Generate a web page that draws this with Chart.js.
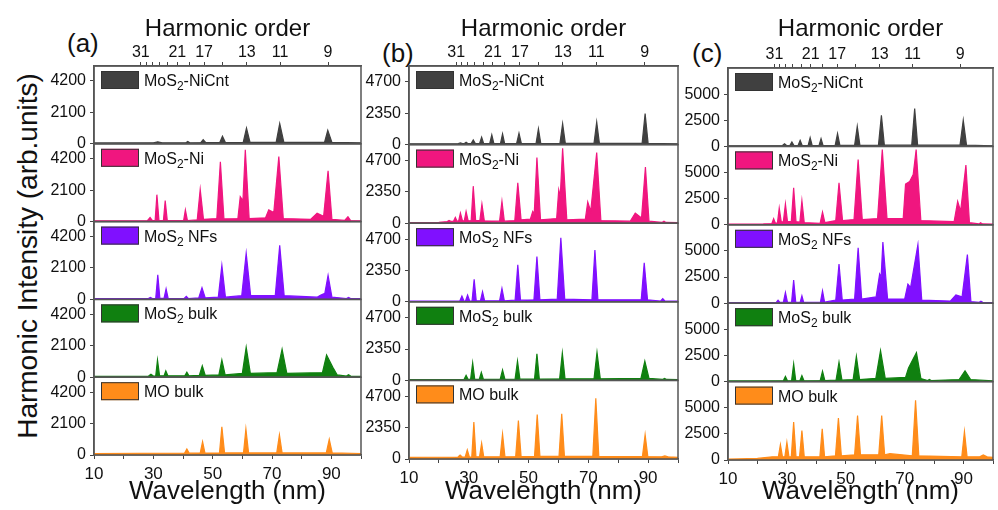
<!DOCTYPE html>
<html>
<head>
<meta charset="utf-8">
<script src="https://cdn.jsdelivr.net/npm/chart.js@4.4.1/dist/chart.umd.min.js"></script>
<style>
  body { margin: 0; background: #fff; width: 998px; height: 510px; overflow: hidden; position: relative;
         font-family: "Liberation Sans", Arial, sans-serif; color: #111; }
  canvas { position: absolute; top: 0; }
  .tag { position: absolute; font-size: 26px; line-height: 1; }
  #ytitle { position: absolute; left: 28px; top: 256px; white-space: nowrap; font-size: 28px;
            transform: translate(-50%, -50%) rotate(-90deg); }
</style>
</head>
<body>
<div class="tag" style="left:67px;top:30px">(a)</div>
<div class="tag" style="left:382px;top:40px">(b)</div>
<div class="tag" style="left:692px;top:40px">(c)</div>
<div id="ytitle">Harmonic Intensity (arb.units)</div>
<canvas id="chartA" width="322" height="510" style="left:44px"></canvas>
<canvas id="chartB" width="324" height="510" style="left:359px"></canvas>
<canvas id="chartC" width="320" height="510" style="left:678px"></canvas>
<script>
// samples, top row to bottom row
const sampleNames = ['MoS2-NiCnt', 'MoS2-Ni', 'MoS2 NFs', 'MoS2 bulk', 'MO bulk'];
const sampleColors = ['#404040', '#f0167f', '#8010ff', '#108010', '#ff8c1a'];

// bottom axis
const wavelengthTicks = [10, 20, 30, 40, 50, 60, 70, 80, 90, 100];
const wavelengthLabels = [10, 30, 50, 70, 90];

// top axis (harmonic order, 800 nm driver)
const harmonicWavelengths = [88.9, 72.7, 61.5, 53.3, 47.1, 42.1, 38.1, 34.8, 32.0, 29.6, 27.6, 25.8];
const harmonicLabels = ['9', '11', '13', '', '17', '', '21', '', '', '', '', '31'];

// y ticks per panel
const yTicksA = [0, 2100, 4200];
const yTicksB = [0, 2350, 4700];
const yTicksC = [0, 2500, 5000];

// spectra [wavelength nm, intensity] -- panel (a)
const aNiCnt = [[10,60],[30,70],[31.5,130],[33,70],[41,70],[41.6,160],[42.3,70],[46,80],[46.8,280],[47.7,80],[52.4,80],[53.3,500],[54.3,80],[60.3,90],[61.4,1050],[62.6,90],[71.4,90],[72.6,1350],[74,90],[87.7,90],[88.8,900],[90.2,90],[100,70]];
const aNi = [[10,50],[28,60],[28.9,270],[29.7,60],[30.6,60],[31.2,1800],[31.9,70],[33.4,70],[34.0,1400],[34.7,70],[40.2,60],[40.8,780],[41.5,60],[44.8,120],[45.8,2160],[46.9,150],[51.4,200],[52.6,4000],[53.8,180],[58.5,200],[59.3,1670],[60.2,1400],[61.0,4800],[62.3,200],[67.8,250],[68.9,780],[70.6,600],[72.3,4350],[73.8,200],[83,150],[85.2,560],[87.4,350],[88.9,3400],[90.2,150],[94.5,80],[95.6,330],[96.5,70],[100,50]];
const aNFs = [[10,50],[28.3,60],[29,130],[29.7,60],[30.8,60],[31.5,1650],[32.2,70],[33.6,70],[34.3,710],[35,70],[40.4,60],[41.1,200],[41.8,60],[45.3,100],[46.4,780],[47.5,100],[51.9,150],[53.1,2270],[54.3,150],[59.8,250],[61.3,3090],[62.8,250],[71.1,250],[72.6,3610],[74.1,250],[85.2,150],[86.3,270],[87.8,400],[88.9,1600],[90.2,150],[95.1,60],[95.8,130],[96.5,60],[100,50]];
const aBulk = [[10,60],[28.4,80],[29.2,200],[30,80],[30.8,80],[31.4,1150],[32.1,90],[33.6,90],[34.2,420],[34.9,90],[40.6,90],[41.3,330],[42,90],[45.5,120],[46.5,760],[47.5,120],[52.1,150],[53.1,1150],[54.2,150],[60,250],[61.3,2000],[62.7,250],[71.7,300],[73.4,1870],[75,250],[87,300],[88.4,1480],[90.5,670],[92,150],[95.1,80],[95.8,170],[96.5,80],[100,60]];
const aMO = [[10,100],[40.5,120],[41.3,400],[42.1,120],[45.8,130],[46.6,890],[47.4,130],[52.3,140],[53.1,1890],[54,140],[60.4,140],[61.2,1740],[62.1,140],[71.6,140],[72.5,1340],[73.4,140],[88.3,140],[89.3,1050],[90.3,140],[100,100]];

// panel (b)
const bNiCnt = [[10,60],[26.5,70],[27.2,120],[27.9,70],[28.4,70],[29.1,180],[29.8,70],[30.8,70],[31.5,350],[32.2,70],[33.6,70],[34.3,560],[35,70],[37,70],[37.7,730],[38.4,70],[40.6,70],[41.3,810],[42,70],[46,80],[46.8,860],[47.6,80],[52.5,80],[53.3,1190],[54.1,80],[60.5,90],[61.4,1570],[62.3,90],[71.9,90],[72.8,1690],[73.7,90],[88,90],[89,2330],[90,90],[100,60]];
const bNi = [[10,50],[20,60],[22.8,120],[23.4,200],[24.2,130],[24.9,150],[25.5,430],[26.1,150],[26.6,160],[27.2,760],[27.9,170],[28.5,180],[29.1,880],[29.8,180],[30.8,200],[31.5,2780],[32.3,200],[33.7,200],[34.4,1440],[35.2,180],[40.3,150],[41.1,1640],[41.9,150],[45.4,200],[46.4,3030],[47.5,250],[50.6,300],[51.4,880],[51.9,700],[52.8,4930],[54,250],[59.4,350],[60.1,2500],[60.6,2000],[61.4,5630],[62.8,250],[69,300],[69.8,1590],[70.8,900],[72.8,5300],[74.2,200],[84,150],[85.7,760],[87.8,400],[89.1,4220],[90.3,150],[94.6,60],[95.3,150],[96,60],[100,50]];
const bNFs = [[10,50],[27,60],[27.7,430],[28.4,60],[28.9,60],[29.6,500],[30.3,60],[31.1,70],[31.8,1690],[32.5,70],[33.9,70],[34.6,760],[35.3,70],[40.3,70],[41.1,1010],[41.9,70],[45.5,120],[46.4,2780],[47.3,120],[51.8,150],[52.8,3390],[53.8,150],[59.6,200],[60.8,4800],[62.1,200],[71.2,150],[72.2,3890],[73.2,150],[87.7,150],[88.7,2930],[89.8,150],[94.2,60],[94.9,230],[95.6,60],[100,50]];
const bBulk = [[10,60],[28.4,70],[29.1,380],[29.8,70],[30.6,70],[31.3,1320],[32,70],[33.5,70],[34.2,600],[34.9,70],[40.5,70],[41.3,780],[42.1,70],[45.5,90],[46.3,1450],[47.1,90],[52,100],[52.8,2000],[53.6,100],[60.4,120],[61.3,2060],[62.2,120],[71.9,120],[72.9,2100],[74,120],[87.6,150],[88.9,1450],[90.3,150],[94.8,70],[95.5,150],[96.2,70],[100,60]];
const bMO = [[10,120],[26.4,150],[27.1,300],[27.8,150],[28.8,150],[29.5,680],[30.2,150],[31,150],[31.7,2780],[32.4,160],[33.6,160],[34.3,1190],[35,160],[40.5,160],[41.3,1870],[42.1,160],[45.7,180],[46.6,2880],[47.5,180],[52,200],[52.9,3340],[53.8,200],[60.2,200],[61.1,3390],[62,200],[71.5,200],[72.5,4550],[73.5,200],[88.1,180],[89,1820],[89.9,180],[94.5,160],[95.6,230],[96.7,160],[100,120]];

// panel (c)
const cNiCnt = [[10,60],[28.5,80],[29.2,240],[29.9,80],[31,80],[31.7,420],[32.4,80],[33.8,80],[34.5,580],[35.2,80],[37.2,80],[37.9,830],[38.6,80],[40.9,80],[41.6,740],[42.3,80],[46.4,90],[47.2,1220],[48,90],[53,100],[53.9,1920],[54.8,100],[61.1,120],[62.1,2980],[63.1,120],[72.4,120],[73.4,3620],[74.4,120],[88.8,120],[89.9,2500],[91,120],[100,60]];
const cNi = [[10,60],[22,80],[24.9,120],[25.5,580],[26.1,150],[26.8,200],[27.4,1600],[28.1,250],[28.8,300],[29.5,1990],[30.2,300],[31.5,300],[32.3,3530],[33.1,300],[34.4,250],[35.1,2310],[35.9,200],[41.3,150],[42.1,1220],[42.9,200],[46.6,400],[47.7,4010],[48.9,400],[52.8,500],[54.2,6250],[55.6,500],[60.8,600],[62.4,7200],[64,600],[69.5,600],[70.3,3900],[71.7,4140],[72.9,4800],[73.9,7200],[75.5,400],[86.8,300],[88,2240],[89,1300],[90.8,5710],[92,200],[95.2,80],[95.8,190],[96.4,80],[100,60]];
const cNFs = [[10,60],[26.4,80],[27,290],[27.6,80],[28.8,80],[29.5,1030],[30.2,80],[31.6,100],[32.3,2210],[33,100],[34.5,80],[35.1,700],[35.7,80],[41.4,100],[42.1,1180],[42.8,100],[46.6,300],[47.7,3750],[48.8,300],[53,400],[54.2,5290],[55.4,400],[60.3,600],[61.5,2790],[62,2500],[62.6,5840],[64.2,400],[70,400],[71.1,1830],[72,1500],[74.5,5610],[75.8,300],[85.5,200],[87.4,800],[89.5,600],[91.3,4650],[92.5,150],[95.3,80],[95.9,190],[96.5,80],[100,60]];
const cBulk = [[10,60],[28.8,80],[29.5,500],[30.2,80],[31.6,100],[32.3,1700],[33,100],[34.4,80],[35.1,580],[35.8,80],[41.3,100],[42.1,1000],[42.9,100],[46.7,150],[47.7,1850],[48.7,150],[52.5,200],[53.6,2420],[54.7,200],[60.2,300],[61.8,2970],[63.4,300],[70.3,400],[71.3,1300],[74,2770],[75.5,300],[77.8,100],[78.4,200],[79,100],[88.5,200],[90.5,1040],[92.4,200],[100,60]];
const cMO = [[10,80],[20,150],[25,300],[27.1,300],[27.8,1470],[28.5,300],[29.3,300],[30,1700],[30.7,300],[31.5,300],[32.3,3620],[33.1,300],[34.3,300],[35.1,2820],[35.9,300],[41.2,300],[42,2980],[42.8,300],[46.5,400],[47.5,4010],[48.5,400],[53,500],[54,4260],[55,500],[61.2,500],[62.2,4260],[63.2,500],[65,600],[72.6,400],[73.7,5710],[74.8,400],[89.4,300],[90.3,2720],[91.2,300],[95.5,300],[96.7,480],[98,300],[100,250]];

const FONT = '"Liberation Sans", Arial, sans-serif';
Chart.defaults.font.family = FONT;
Chart.defaults.color = '#111';

// frame around every row + the little legend box in its corner
const rowFrames = {
  id: 'rowFrames',
  afterDraw(chart) {
    const { ctx, chartArea } = chart;
    ctx.save();
    sampleNames.forEach((name, r) => {
      const s = chart.scales['y' + r];
      ctx.strokeStyle = '#555';
      ctx.lineWidth = 1.5;
      ctx.strokeRect(chartArea.left, s.top, chartArea.right - chartArea.left, s.bottom - s.top);

      const bx = chartArea.left + 7, by = s.top + 5;
      ctx.fillStyle = sampleColors[r];
      ctx.fillRect(bx, by, 38, 18);
      ctx.strokeStyle = '#333';
      ctx.lineWidth = 1;
      ctx.strokeRect(bx + 0.5, by + 0.5, 37, 17);

      const m = name.match(/^(\D*)(\d?)(.*)$/);
      let tx = bx + 43;
      const ty = by + 15;
      ctx.fillStyle = '#111';
      ctx.textBaseline = 'alphabetic';
      ctx.font = '16px ' + FONT;
      ctx.fillText(m[1], tx, ty);
      tx += ctx.measureText(m[1]).width;
      if (m[2]) {
        ctx.font = '12px ' + FONT;
        ctx.fillText(m[2], tx, ty + 4);
        tx += ctx.measureText(m[2]).width;
      }
      ctx.font = '16px ' + FONT;
      ctx.fillText(m[3], tx, ty);
    });
    ctx.restore();
  }
};

function buildPanel(canvasId, rows, yMax, yTicks, padRight, topH, bottomH) {
  const scales = {
    x: {
      type: 'linear', position: 'bottom', min: 10, max: 100,
      afterBuildTicks: s => { s.ticks = wavelengthTicks.map(v => ({ value: v })); },
      afterFit: s => { s.height = bottomH; },
      ticks: {
        autoSkip: false, maxRotation: 0, padding: 5,
        font: { size: 17 }, color: '#111',
        callback: v => wavelengthLabels.includes(v) ? String(v) : ''
      },
      grid: { drawOnChartArea: false, tickLength: 4, color: '#444' },
      border: { color: '#555', width: 1.5 },
      title: { display: true, text: 'Wavelength (nm)', font: { size: 26 }, color: '#111', padding: { top: 0, bottom: 3 } }
    },
    xTop: {
      type: 'linear', position: 'top', min: 10, max: 100,
      afterBuildTicks: s => { s.ticks = harmonicWavelengths.map(v => ({ value: v })); },
      afterFit: s => { s.height = topH; },
      ticks: {
        autoSkip: false, maxRotation: 0, padding: 0,
        font: { size: 16 }, color: '#111',
        callback: (v, i) => harmonicLabels[i]
      },
      grid: { drawOnChartArea: false, tickLength: 4, color: '#444' },
      border: { color: '#555', width: 1.5 },
      title: { display: true, text: 'Harmonic order', font: { size: 24 }, color: '#111', padding: { top: 15, bottom: 0 } }
    }
  };
  // bottom row first so the top row ends up on top of the stack
  for (let r = rows.length - 1; r >= 0; r--) {
    scales['y' + r] = {
      type: 'linear', position: 'left', stack: 'rows', stackWeight: 1,
      min: 0, max: yMax,
      afterBuildTicks: s => { s.ticks = yTicks.map(v => ({ value: v })); },
      afterFit: s => { s.width = 50; },
      ticks: { font: { size: 16 }, color: '#111', padding: 4, callback: v => String(v) },
      grid: { drawOnChartArea: false, tickLength: 4, color: '#444' },
      border: { color: '#555', width: 1.5 }
    };
  }

  const datasets = rows.map((pts, r) => ({
    data: pts.map(p => ({ x: p[0], y: p[1] })),
    xAxisID: 'x',
    yAxisID: 'y' + r,
    borderColor: sampleColors[r],
    backgroundColor: sampleColors[r],
    borderWidth: 1.2,
    pointRadius: 0,
    fill: 'origin'
  }));

  new Chart(document.getElementById(canvasId), {
    type: 'line',
    data: { datasets },
    options: {
      responsive: false,
      animation: false,
      layout: { padding: { left: 0, right: padRight, top: 0, bottom: 0 } },
      plugins: { legend: { display: false }, tooltip: { enabled: false } },
      scales
    },
    plugins: [rowFrames]
  });
}

buildPanel('chartA', [aNiCnt, aNi, aNFs, aBulk, aMO], 5200, yTicksA, 5, 66, 55);
buildPanel('chartB', [bNiCnt, bNi, bNFs, bBulk, bMO], 5900, yTicksB, 5, 66, 51);
buildPanel('chartC', [cNiCnt, cNi, cNFs, cBulk, cMO], 7500, yTicksC, 3, 68, 50);
</script>
</body>
</html>
